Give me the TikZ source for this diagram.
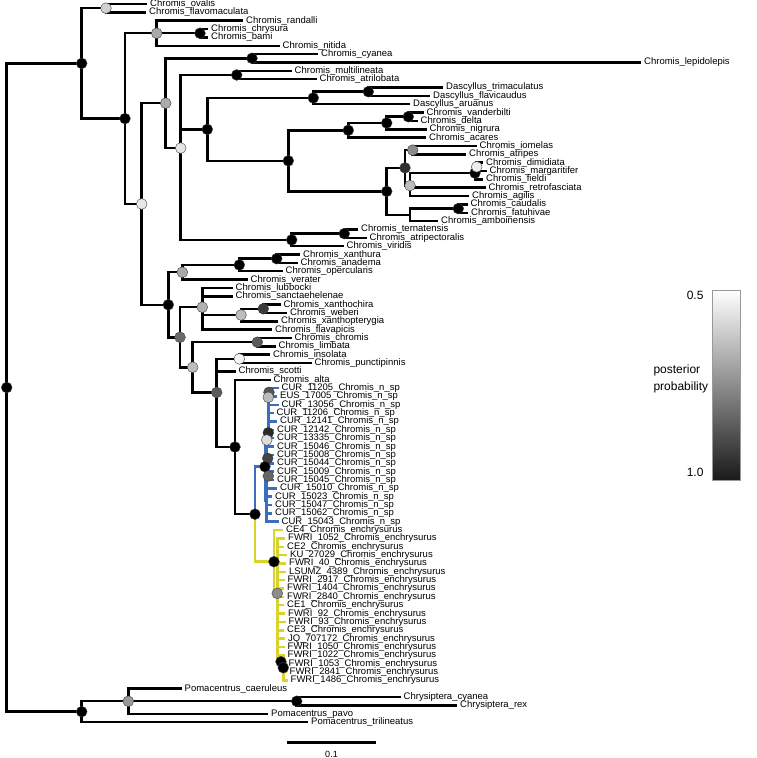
\documentclass[tikz,border=0pt]{standalone}
\usepackage{fontspec}
\setmainfont{Liberation Sans}
\definecolor{bluec}{HTML}{3D6DC0}
\definecolor{yellowc}{HTML}{D8D42C}
\begin{document}
\begin{tikzpicture}[x=1pt,y=-1pt,
  br/.style={line width=2.5pt, line cap=rect, line join=miter},
  nd/.style={circle, inner sep=0pt, minimum size=10.8pt, draw=black!75, line width=0.4pt},
  lab/.style={anchor=west, inner sep=0pt, font=\fontsize{9.5}{10}\selectfont, xshift=4pt}
]
\useasboundingbox (0,0) rectangle (756,758);
% internal nodes
\coordinate (R0) at (6.7,387.53);
\coordinate (A) at (81.7,63.39);
\coordinate (AO) at (106,8.18);
\coordinate (B) at (125,118.6);
\coordinate (C) at (156.7,33.23);
\coordinate (CB) at (200,33.23);
\coordinate (D) at (141.7,203.97);
\coordinate (E) at (165.7,103.18);
\coordinate (H) at (252,58.28);
\coordinate (G) at (180.7,148.08);
\coordinate (I) at (236.7,74.98);
\coordinate (K) at (207.3,129.38);
\coordinate (N) at (313.3,97.94);
\coordinate (N1) at (368.3,91.68);
\coordinate (L) at (288.3,160.82);
\coordinate (M) at (348.3,130.29);
\coordinate (M1) at (386.7,122.99);
\coordinate (M2) at (408.3,116.73);
\coordinate (O) at (386.7,191.36);
\coordinate (P) at (405,167.87);
\coordinate (P1) at (412.7,150.13);
\coordinate (R) at (410,185.61);
\coordinate (R1) at (475,173.09);
\coordinate (R2) at (476.7,166.83);
\coordinate (Q) at (410,214.84);
\coordinate (Q1) at (458.3,208.58);
\coordinate (J) at (291.7,239.89);
\coordinate (J1) at (344.3,233.63);
\coordinate (F) at (168.3,304.75);
\coordinate (S) at (182.3,272.24);
\coordinate (U) at (239.3,264.94);
\coordinate (V) at (276.7,258.68);
\coordinate (T) at (180,337.26);
\coordinate (W) at (202.3,307.21);
\coordinate (Y) at (241,315.04);
\coordinate (Z) at (263.3,308.78);
\coordinate (X) at (192.7,367.3);
\coordinate (AA) at (257.3,342.18);
\coordinate (BB) at (216.7,392.42);
\coordinate (CC) at (239.3,358.88);
\coordinate (DD) at (235,446.98);
\coordinate (GG) at (255,514.2);
% blue clade nodes
\coordinate (HH) at (265,466.7);
\coordinate (Bup) at (268.3,432.7);
\coordinate (B2a) at (268.3,397.3);
\coordinate (B2) at (269,392.3);
\coordinate (Bmid) at (266.7,440);
\coordinate (B4) at (267.7,458.3);
\coordinate (Bdown) at (266.7,500.6);
\coordinate (B6) at (268.3,476);
% yellow clade nodes
\coordinate (II) at (274,561.7);
\coordinate (JJ) at (277.3,593.35);
\coordinate (Yb) at (281,661.7);
\coordinate (Yc) at (283.3,667.7);
% outgroup
\coordinate (PP) at (81.7,711.67);
\coordinate (QQ) at (128.3,701.23);
\coordinate (RR) at (296.7,701.23);
% leaves and labels
\foreach \i/\x/\t in {
1/146/Chromis\_ovalis, 2/145/Chromis\_flavomaculata, 3/242/Chromis\_randalli,
4/207/Chromis\_chrysura, 5/207/Chromis\_bami, 6/278.5/Chromis\_nitida,
7/317/Chromis\_cyanea, 8/640/Chromis\_lepidolepis, 9/290.5/Chromis\_multilineata,
10/315.5/Chromis\_atrilobata, 11/442/Dascyllus\_trimaculatus, 12/429/Dascyllus\_flavicaudus,
13/409/Dascyllus\_aruanus, 14/422.5/Chromis\_vanderbilti, 15/416.5/Chromis\_delta,
16/425.5/Chromis\_nigrura, 17/425/Chromis\_acares, 18/475.5/Chromis\_iomelas,
19/465/Chromis\_atripes, 20/482/Chromis\_dimidiata, 21/485.5/Chromis\_margaritifer,
22/482/Chromis\_fieldi, 23/484.5/Chromis\_retrofasciata, 24/468/Chromis\_agilis,
25/466.5/Chromis\_caudalis, 26/467/Chromis\_fatuhivae, 27/437/Chromis\_amboinensis,
28/357/Chromis\_ternatensis, 29/365.5/Chromis\_atripectoralis, 30/342.5/Chromis\_viridis,
31/299/Chromis\_xanthura, 32/296.5/Chromis\_anadema, 33/281.5/Chromis\_opercularis,
34/246.5/Chromis\_verater, 35/231.5/Chromis\_lubbocki, 36/231.5/Chromis\_sanctaehelenae,
37/279.5/Chromis\_xanthochira, 38/286/Chromis\_weberi, 39/277/Chromis\_xanthopterygia,
40/271/Chromis\_flavapicis, 41/290.5/Chromis\_chromis, 42/274.5/Chromis\_limbata,
43/269/Chromis\_insolata, 44/310.5/Chromis\_punctipinnis, 45/234.5/Chromis\_scotti,
46/269.5/Chromis\_alta,
47/277.5/CUR\_11205\_Chromis\_n\_sp, 48/276/EUS\_17005\_Chromis\_n\_sp,
49/277.5/CUR\_13056\_Chromis\_n\_sp, 50/272.5/CUR\_11206\_Chromis\_n\_sp,
51/276/CUR\_12141\_Chromis\_n\_sp, 52/273/CUR\_12142\_Chromis\_n\_sp,
53/273/CUR\_13335\_Chromis\_n\_sp, 54/273/CUR\_15046\_Chromis\_n\_sp,
55/273/CUR\_15008\_Chromis\_n\_sp, 56/273/CUR\_15044\_Chromis\_n\_sp,
57/273/CUR\_15009\_Chromis\_n\_sp, 58/273/CUR\_15045\_Chromis\_n\_sp,
59/276/CUR\_15010\_Chromis\_n\_sp, 60/271/CUR\_15023\_Chromis\_n\_sp,
61/271/CUR\_15047\_Chromis\_n\_sp, 62/271/CUR\_15062\_Chromis\_n\_sp,
63/277.5/CUR\_15043\_Chromis\_n\_sp,
64/282/CE4\_Chromis\_enchrysurus, 65/284/FWRI\_1052\_Chromis\_enchrysurus,
66/283/CE2\_Chromis\_enchrysurus, 67/286/KU\_27029\_Chromis\_enchrysurus,
68/285/FWRI\_40\_Chromis\_enchrysurus, 69/285/LSUMZ\_4389\_Chromis\_enchrysurus,
70/283.5/FWRI\_2917\_Chromis\_enchrysurus, 71/283/FWRI\_1404\_Chromis\_enchrysurus,
72/283/FWRI\_2840\_Chromis\_enchrysurus, 73/283/CE1\_Chromis\_enchrysurus,
74/284/FWRI\_92\_Chromis\_enchrysurus, 75/284.5/FWRI\_93\_Chromis\_enchrysurus,
76/283/CE3\_Chromis\_enchrysurus, 77/284/JQ\_707172\_Chromis\_enchrysurus,
78/283.5/FWRI\_1050\_Chromis\_enchrysurus, 79/283.5/FWRI\_1022\_Chromis\_enchrysurus,
80/284.5/FWRI\_1053\_Chromis\_enchrysurus, 81/285.5/FWRI\_2841\_Chromis\_enchrysurus,
82/286.5/FWRI\_1486\_Chromis\_enchrysurus,
83/180.5/Pomacentrus\_caeruleus, 84/399.5/Chrysiptera\_cyanea, 85/456/Chrysiptera\_rex,
86/267/Pomacentrus\_pavo, 87/307/Pomacentrus\_trilineatus}
{
  \coordinate (l\i) at (\x,{4+(\i-1)*8.35});
  \node[lab] (t\i) at (l\i) {\t};
}
% black branches
\foreach \p/\c in {R0/A, R0/PP, A/AO, A/B, AO/l1, AO/l2, B/C, B/D, C/l3, C/CB, C/l6,
  CB/l4, CB/l5, D/E, D/F, E/H, E/G, H/l7, H/l8, G/I, G/K, G/J, I/l9, I/l10,
  K/N, K/L, N/N1, N/l13, N1/l11, N1/l12, L/M, L/O, M/M1, M/l17, M1/M2, M1/l16,
  M2/l14, M2/l15, O/P, O/Q, P/P1, P/R, P1/l18, P1/l19, R/R1, R/l23, R/l24,
  R1/R2, R1/l22, R2/l20, R2/l21, Q/Q1, Q/l27, Q1/l25, Q1/l26, J/J1, J/l30,
  J1/l28, J1/l29, F/S, F/T, S/U, S/l34, U/V, U/l33, V/l31, V/l32, T/W, T/X,
  W/l35, W/l36, W/Y, W/l40, Y/Z, Y/l39, Z/l37, Z/l38, X/AA, X/BB, AA/l41, AA/l42,
  BB/CC, BB/l45, BB/DD, CC/l43, CC/l44, DD/l46, DD/GG,
  PP/QQ, PP/l87, QQ/l83, QQ/RR, QQ/l86, RR/l84, RR/l85}
  \draw[br] (\p) |- (\c);
% blue clade
\foreach \p/\c in {GG/HH, HH/Bup, HH/Bdown, Bup/B2a, Bup/l50, Bup/l51, Bup/l52, Bup/Bmid,
  B2a/B2, B2a/l49, B2/l47, B2/l48, Bmid/l53, Bmid/l54, Bmid/B4, B4/l55, B4/l56,
  Bdown/B6, Bdown/l59, Bdown/l60, Bdown/l61, Bdown/l62, Bdown/l63, B6/l57, B6/l58}
  \draw[br, draw=bluec] (\p) |- (\c);
% yellow clade
\foreach \p/\c in {GG/II, II/l64, II/JJ, JJ/l65, JJ/l66, JJ/l67, JJ/l68, JJ/l69,
  JJ/l70, JJ/l71, JJ/l72, JJ/l73, JJ/l74, JJ/l75, JJ/l76, JJ/l77, JJ/l78, JJ/l79,
  JJ/Yb, Yb/l80, Yb/Yc, Yc/l81, Yc/l82}
  \draw[br, draw=yellowc] (\p) |- (\c);
% node circles
\foreach \n/\col in {R0/000000, A/000000, AO/D0D0D0, B/000000, C/A9A9A9, CB/000000,
  D/E8E8E8, E/AAAAAA, H/000000, G/E6E6E6, I/000000, K/000000, N/000000, N1/000000,
  L/000000, M/000000, M1/000000, M2/000000, O/000000, P/303030, P1/8C8C8C,
  R/BDBDBD, R1/000000, R2/ECECEC, Q1/000000, J/000000, J1/000000, F/000000,
  S/A9A9A9, U/000000, V/000000, T/6A6A6A, W/B0B0B0, Y/BDBDBD, Z/3A3A3A,
  X/BDBDBD, AA/5A5A5A, CC/F4F4F4, BB/5A5A5A, DD/000000, GG/000000,
  B2/555555, B2a/BBBBBB, Bup/2A2A2A, Bmid/DDDDDD, B4/444444, HH/000000, B6/666666,
  II/000000, JJ/8C8C8C, Yb/000000, Yc/000000,
  PP/000000, QQ/999999, RR/000000}
{
  \definecolor{tmpc}{HTML}{\col}
  \node[nd, fill=tmpc] (c\n) at (\n) {};
}
% scale bar
\coordinate (sb1) at (287.3,742.7);
\coordinate (sb2) at (375.7,742.7);
\draw[line width=2.5pt] (sb1) -- (sb2);
\node[font=\fontsize{9}{10}\selectfont] (sbl) at (331.5,754) {0.1};
% legend
\coordinate (lg1) at (712.7,290);
\coordinate (lg2) at (740,480);
\shade[top color=white, bottom color=black!90] (lg1) rectangle (lg2);
\draw[black!40, line width=0.6pt] (lg1) rectangle (lg2);
\node[anchor=east, font=\fontsize{12}{14}\selectfont] (lg05) at (707,295) {0.5};
\node[anchor=east, font=\fontsize{12}{14}\selectfont] (lg10) at (707,472) {1.0};
\node[anchor=west, align=left, font=\fontsize{12}{17}\selectfont] (lgt) at (650,379) {posterior\\probability};
\end{tikzpicture}
\end{document}
